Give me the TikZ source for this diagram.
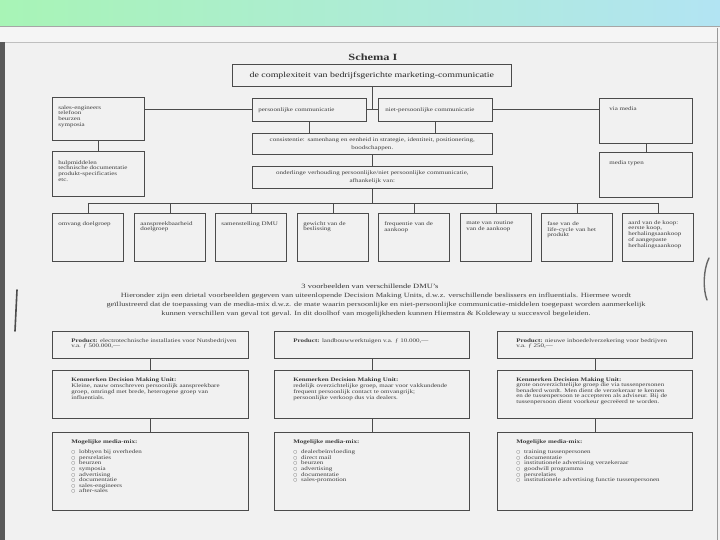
\documentclass[tikz,border=0pt]{standalone}
\usepackage{fontspec}
\setmainfont[FakeStretch=1.3]{Liberation Serif}
\newfontfamily\bulletfont{DejaVu Sans}
\usepackage{tikz}
\usetikzlibrary{positioning}
\definecolor{ink}{RGB}{62,62,62}
\definecolor{rule}{RGB}{75,75,75}
\definecolor{paper}{RGB}{241,241,241}
\definecolor{bannerL}{RGB}{168,244,182}
\definecolor{bannerR}{RGB}{178,228,243}
\tikzstyle{cell}=[rectangle,draw=rule,line width=0.6pt,anchor=north west,
inner sep=0pt,text=ink,font=\fontsize{5.4}{5.9}\selectfont]
\tikzstyle{midcell}=[cell,text width=240pt,minimum width=240pt,align=center,
font=\fontsize{5.4}{8}\selectfont]
\tikzstyle{wire}=[draw=rule,line width=0.6pt]
\newcommand{\cellbox}[5]{\parbox[c][#2pt][t]{#1pt}{\vspace*{#4pt}\leftskip=#3pt
\rightskip=0pt plus 1fil\parindent=0pt\relax #5\par}}
\newcommand{\opt}{{\bulletfont\fontsize{4.5}{5}\selectfont ○}\hspace{4pt}}

\begin{document}
\begin{tikzpicture}[x=1pt,y=-1pt]
    \useasboundingbox (0,0) rectangle (720,540);
    % scanned page
    \fill[paper] (0,0) rectangle (720,540);
    \shade[left color=bannerL,right color=bannerR] (0,0) rectangle (720,26);
    \fill[black!4] (0,26) rectangle (720,42);
    \draw[black!35] (0,26) -- (720,26);
    \draw[black!25] (5,42) -- (717,42);
    \fill[black!65] (0,42) rectangle (5,540);
    \draw[black!40,line width=1pt] (717,28) -- (717,540);
    \draw[black!70,line width=1.6pt,line cap=round] (17,290) -- (15,331);
    \draw[black!60,line width=1.4pt,line cap=round] (709,258) .. controls (703,270) and (703,290) .. (707,300);

    % schema I
    \node (schema) [font=\bfseries\fontsize{9.5}{10}\selectfont,text=black!80] at (373,57) {Schema I};
    \node (title) [cell,minimum width=279pt,minimum height=22pt,text width=279pt,align=center,
        font=\fontsize{7.6}{8}\selectfont,text=black!85] at (232,64)
        {de complexiteit van bedrijfsgerichte marketing-communicatie};
    \node (pers) [cell,minimum width=114pt,minimum height=23pt,text width=102pt,inner xsep=6pt,align=left] at (252,98)
        {persoonlijke communicatie};
    \node (npers) [cell,minimum width=114pt,minimum height=23pt,text width=100pt,inner xsep=7pt,align=left] at (378,98)
        {niet-persoonlijke communicatie};
    \node (sales) [cell] at (52,97) {\cellbox{92}{43}{6}{8}{sales-engineers\\telefoon\\beurzen\\symposia}};
    \node (hulp) [cell] at (52,151) {\cellbox{92}{45}{6}{9}{hulpmiddelen\\technische documentatie\\produkt-specificaties\\etc.}};
    \node (via) [cell] at (599,98) {\cellbox{93}{45}{10}{8}{via media}};
    \node (mtypen) [cell] at (599,152) {\cellbox{93}{45}{10}{8}{media typen}};
    \node (cons) [midcell,minimum height=21pt] at (252,133)
        {consistentie: samenhang en eenheid in strategie, identiteit, positionering,\\boodschappen.};
    \node (onder) [midcell,minimum height=22pt] at (252,166)
        {onderlinge verhouding persoonlijke/niet persoonlijke communicatie,\\afhankelijk van:};

    \node (aspect1) [cell] at (52,213) {\cellbox{71}{48}{6}{8}{omvang doelgroep}};
    \node (aspect2) [cell] at (134,213) {\cellbox{71}{48}{6}{8}{aanspreekbaarheid\\doelgroep}};
    \node (aspect3) [cell] at (215,213) {\cellbox{71}{48}{6}{8}{samenstelling DMU}};
    \node (aspect4) [cell] at (297,213) {\cellbox{71}{48}{6}{8}{gewicht van de\\beslissing}};
    \node (aspect5) [cell] at (378,213) {\cellbox{71}{48}{6}{8}{frequentie van de\\aankoop}};
    \node (aspect6) [cell] at (460,213) {\cellbox{71}{48}{6}{8}{mate van routine\\van de aankoop}};
    \node (aspect7) [cell] at (541,213) {\cellbox{71}{48}{6}{8}{fase van de\\life-cycle van het\\produkt}};
    \node (aspect8) [cell] at (622,213) {\cellbox{71}{48}{6}{7}{aard van de koop:\\eerste koop,\\herhalingsaankoop\\of aangepaste\\herhalingsaankoop}};

    \draw [wire] (title.south) -- (title.south |- pers.east);
    \draw [wire] (pers.east) -- (npers.west);
    \draw [wire] (pers.west) -- (pers.west -| sales.east);
    \draw [wire] (npers.east) -- (npers.east -| via.west);
    \draw [wire] (sales) -- (hulp);
    \draw [wire] (via) -- (mtypen);
    \draw [wire] (pers) -- (pers |- cons.north);
    \draw [wire] (npers) -- (npers |- cons.north);
    \draw [wire] (cons) -- (onder);
    \coordinate (bus) at (371,203);
    \draw [wire] (onder) -- (onder |- bus);
    \draw [wire] (aspect1.north |- bus) -- (aspect8.north |- bus);
    \foreach \i in {1,...,8}
        \draw [wire] (aspect\i) -- (aspect\i |- bus);

    % 3 voorbeelden
    \node (dmuhead) [text=black!80,font=\fontsize{6.5}{7}\selectfont] at (370,286) {3 voorbeelden van verschillende DMU's};
    \node (intro) [text=ink,align=center,font=\fontsize{6.4}{9}\selectfont] at (376,305)
        {Hieronder zijn een drietal voorbeelden gegeven van uiteenlopende Decision Making Units, d.w.z. verschillende beslissers en influentials. Hiermee wordt\\
        geïllustreerd dat de toepassing van de media-mix d.w.z. de mate waarin persoonlijke en niet-persoonlijke communicatie-middelen toegepast worden aanmerkelijk\\
        kunnen verschillen van geval tot geval. In dit doolhof van mogelijkheden kunnen Hiemstra \& Koldeway u succesvol begeleiden.};

    \node (prod1) [cell] at (52,331) {\cellbox{196}{27}{19}{7}{\textbf{Product:} electrotechnische installaties voor Nutsbedrijven\\v.a. ƒ 500.000,—}};
    \node (prod2) [cell] at (274,331) {\cellbox{195}{27}{19}{7}{\textbf{Product:} landbouwwerktuigen v.a. ƒ 10.000,—}};
    \node (prod3) [cell] at (497,331) {\cellbox{195}{27}{19}{7}{\textbf{Product:} nieuwe inboedelverzekering voor bedrijven\\v.a. ƒ 250,—}};

    \node (ken1) [cell,font=\fontsize{5.4}{6.3}\selectfont] at (52,370) {\cellbox{196}{48}{19}{7}{\textbf{Kenmerken Decision Making Unit:}\\
        Kleine, nauw omschreven persoonlijk aanspreekbare\\groep, omringd met brede, heterogene groep van\\influentials.}};
    \node (ken2) [cell,font=\fontsize{5.4}{6.3}\selectfont] at (274,370) {\cellbox{195}{48}{19}{7}{\textbf{Kenmerken Decision Making Unit:}\\
        redelijk overzichtelijke groep, maar voor vakkundende\\frequent persoonlijk contact te omvangrijk;\\persoonlijke verkoop dus via dealers.}};
    \node (ken3) [cell,font=\fontsize{5.4}{5.6}\selectfont] at (497,370) {\cellbox{195}{48}{19}{7}{\textbf{Kenmerken Decision Making Unit:}\\
        grote onoverzichtelijke groep die via tussenpersonen\\benaderd wordt. Men dient de verzekeraar te kennen\\en de tussenpersoon te accepteren als adviseur. Bij de\\tussenpersoon dient voorkeur gecreëerd te worden.}};

    \node (mix1) [cell,font=\fontsize{5.4}{5.6}\selectfont] at (52,432) {\cellbox{196}{78}{19}{7}{\textbf{Mogelijke media-mix:}\par\vspace{5pt}
        \opt lobbyen bij overheden\\\opt persrelaties\\\opt beurzen\\\opt symposia\\\opt advertising\\\opt documentatie\\\opt sales-engineers\\\opt after-sales}};
    \node (mix2) [cell,font=\fontsize{5.4}{5.6}\selectfont] at (274,432) {\cellbox{195}{78}{19}{7}{\textbf{Mogelijke media-mix:}\par\vspace{5pt}
        \opt dealerbeïnvloeding\\\opt direct mail\\\opt beurzen\\\opt advertising\\\opt documentatie\\\opt sales-promotion}};
    \node (mix3) [cell,font=\fontsize{5.4}{5.6}\selectfont] at (497,432) {\cellbox{195}{78}{19}{7}{\textbf{Mogelijke media-mix:}\par\vspace{5pt}
        \opt training tussenpersonen\\\opt documentatie\\\opt institutionele advertising verzekeraar\\\opt goodwill programma\\\opt persrelaties\\\opt institutionele advertising functie tussenpersonen}};

    \foreach \c in {1,2,3} {
        \draw [wire] (prod\c) -- (ken\c);
        \draw [wire] (ken\c) -- (mix\c);
    }
\end{tikzpicture}
\end{document}
